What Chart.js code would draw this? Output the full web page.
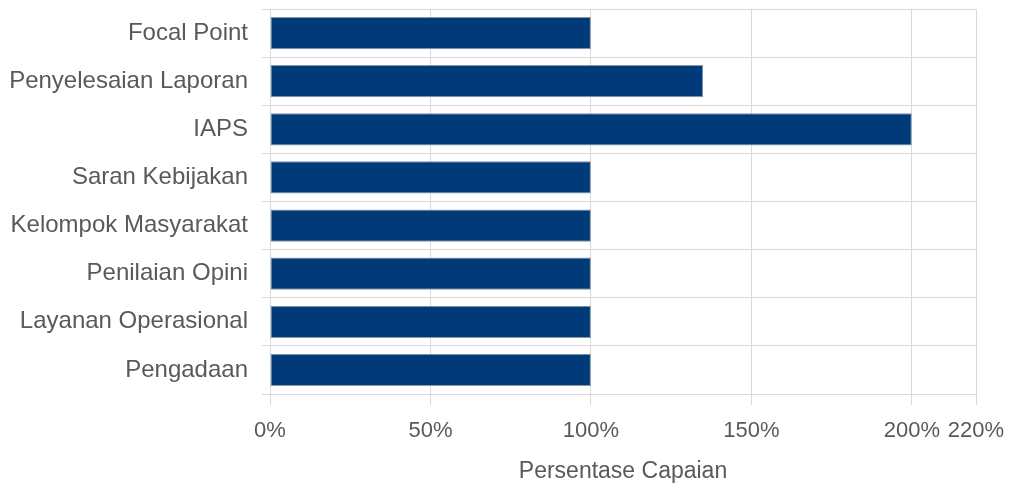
<!DOCTYPE html>
<html>
<head>
<meta charset="utf-8">
<script src="https://cdn.jsdelivr.net/npm/chart.js@4"></script>
<style>
  html, body { margin: 0; padding: 0; background: #fff; }
  #wrap { width: 1013px; height: 485px; }
</style>
</head>
<body>
<div id="wrap"><canvas id="c"></canvas></div>
<script>
const categories = ['Focal Point', 'Penyelesaian Laporan', 'IAPS', 'Saran Kebijakan',
  'Kelompok Masyarakat', 'Penilaian Opini', 'Layanan Operasional', 'Pengadaan'];
const capaian = [100, 135, 200, 100, 100, 100, 100, 100];
const xTicks = [0, 50, 100, 150, 200, 220];

Chart.defaults.font.family = "'Liberation Sans', Arial, sans-serif";
Chart.defaults.color = '#595959';

new Chart(document.getElementById('c'), {
  type: 'bar',
  data: {
    labels: categories,
    datasets: [{
      data: capaian,
      backgroundColor: '#003A78',
      borderColor: '#8a97a8',
      borderWidth: 1,
      borderSkipped: false,
      barPercentage: 0.67,
      categoryPercentage: 1,
    }],
  },
  options: {
    indexAxis: 'y',
    responsive: true,
    maintainAspectRatio: false,
    animation: false,
    layout: { padding: { top: 9, right: 37, left: 0, bottom: 0 } },
    plugins: { legend: { display: false }, tooltip: { enabled: false } },
    scales: {
      x: {
        min: 0,
        max: 220,
        afterBuildTicks: s => { s.ticks = xTicks.map(v => ({ value: v })); },
        afterFit: s => { s.height = 91; s.paddingLeft = 0; s.paddingRight = 0; },
        grid: { color: '#d9d9d9', tickLength: 11 },
        border: { display: false },
        ticks: {
          autoSkip: false,
          maxRotation: 0,
          font: { size: 22 },
          color: '#595959',
          padding: 13,
          callback: v => v + '%',
        },
        title: {
          display: true,
          text: 'Persentase Capaian',
          font: { size: 23 },
          color: '#595959',
          padding: { top: 8, bottom: 0 },
        },
      },
      y: {
        afterFit: s => { s.width = 270; s.paddingTop = 0; s.paddingBottom = 0; },
        grid: { color: '#d9d9d9', offset: true, tickLength: 8 },
        border: { display: true, color: '#d9d9d9' },
        ticks: {
          font: { size: 24 },
          color: '#595959',
          padding: 14,
        },
      },
    },
  },
});
</script>
</body>
</html>
